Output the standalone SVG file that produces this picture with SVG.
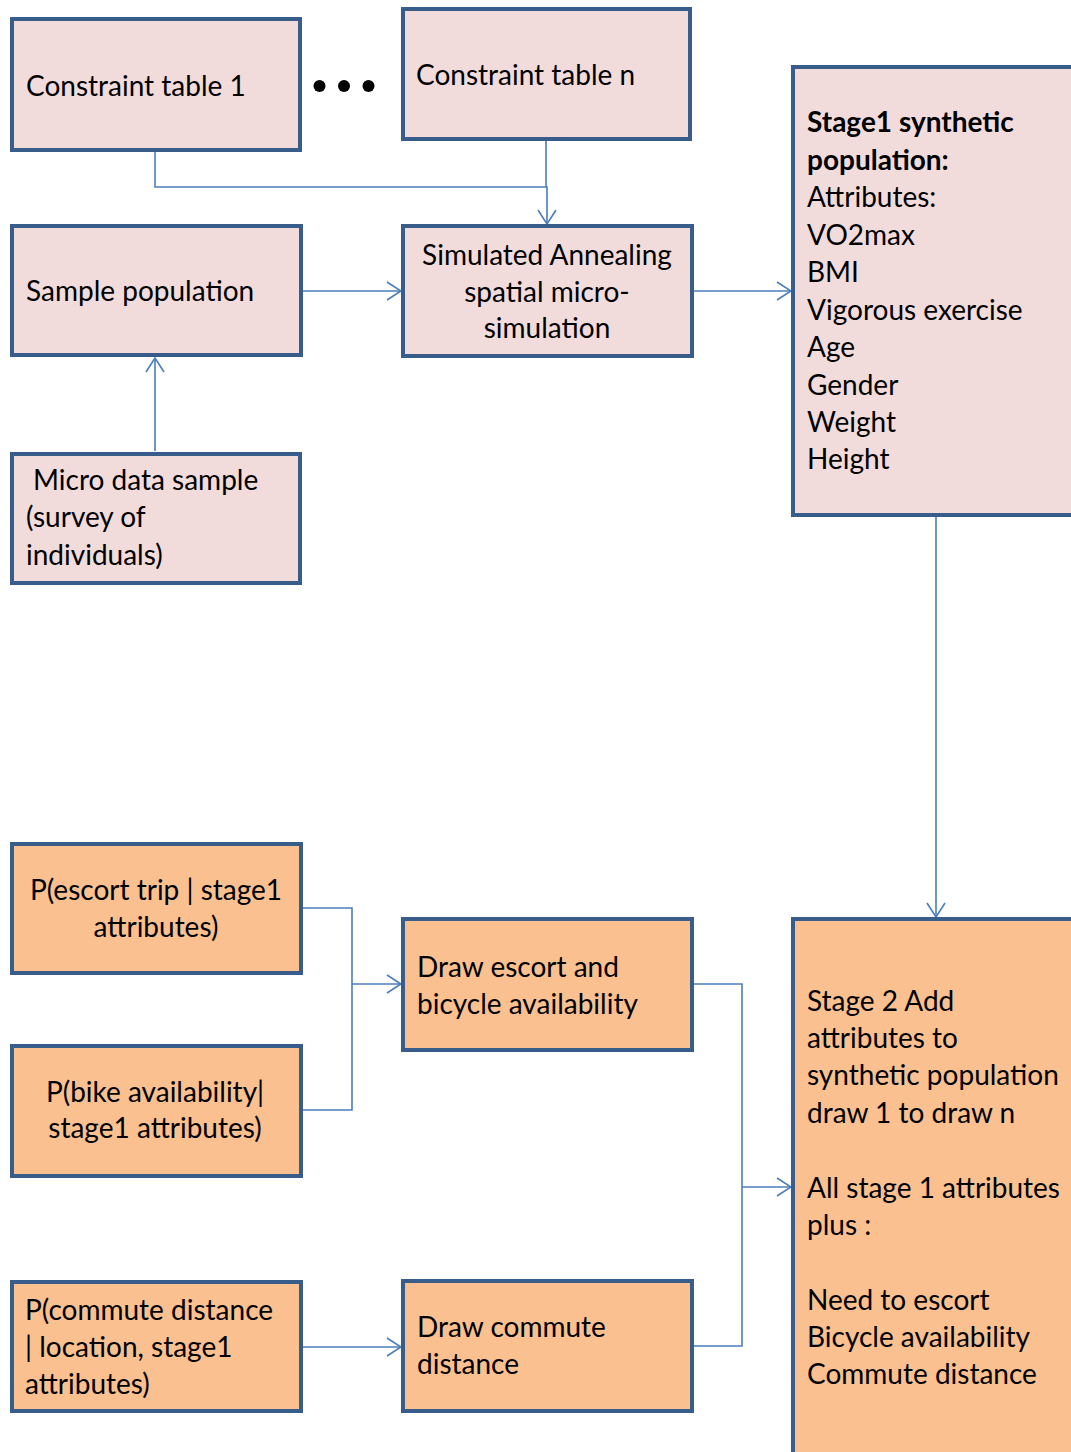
<svg xmlns="http://www.w3.org/2000/svg" width="1071" height="1452" viewBox="0 0 1071 1452">
  <style>
    .box { stroke: #385d8a; stroke-width: 4; }
    .pink { fill: #f2dcdb; }
    .orange { fill: #fac090; }
    .lbl { font-family: Lato, "Liberation Sans", sans-serif; font-size: 28px; fill: #000; }
    .mid { text-anchor: middle; }
    .b { font-weight: bold; }
    .conn { fill: none; stroke: #4a7ebb; stroke-width: 1.6; }
  </style>
  <defs>
    <marker id="arrow" viewBox="0 0 16 20" refX="15" refY="10" markerWidth="16" markerHeight="20" markerUnits="userSpaceOnUse" orient="auto">
      <path d="M1,1 L15,10 L1,19" fill="none" stroke="#4a7ebb" stroke-width="1.6"/>
    </marker>
  </defs>
  <rect width="1071" height="1452" fill="#ffffff"/>

  <!-- connectors -->
  <g id="connectors">
    <path class="conn" d="M155,152 V187 H547 V224" marker-end="url(#arrow)"/>
    <path class="conn" d="M546,141 V187"/>
    <path class="conn" d="M303,291 H401" marker-end="url(#arrow)"/>
    <path class="conn" d="M694,291 H791" marker-end="url(#arrow)"/>
    <path class="conn" d="M155,451 V358" marker-end="url(#arrow)"/>
    <path class="conn" d="M936,517 V917" marker-end="url(#arrow)"/>
    <path class="conn" d="M303,908 H352 V1110 H303"/>
    <path class="conn" d="M352,984 H401" marker-end="url(#arrow)"/>
    <path class="conn" d="M694,984 H742 V1346 H694"/>
    <path class="conn" d="M742,1187 H791" marker-end="url(#arrow)"/>
    <path class="conn" d="M303,1347 H401" marker-end="url(#arrow)"/>
  </g>

  <!-- ellipsis between constraint tables -->
  <g id="ellipsis" fill="#000">
    <circle cx="319.5" cy="86" r="6"/>
    <circle cx="344" cy="86" r="6"/>
    <circle cx="368.5" cy="86" r="6"/>
  </g>

  <g id="constraint-table-1">
    <rect class="box pink" x="12" y="19" width="288" height="131"/>
    <text class="lbl" x="26" y="96">Constraint table 1</text>
  </g>

  <g id="constraint-table-n">
    <rect class="box pink" x="403" y="9" width="287" height="130"/>
    <text class="lbl" x="416" y="85">Constraint table n</text>
  </g>

  <g id="sample-population">
    <rect class="box pink" x="12" y="226" width="289" height="129"/>
    <text class="lbl" x="26" y="301">Sample population</text>
  </g>

  <g id="simulated-annealing">
    <rect class="box pink" x="403" y="226" width="289" height="130"/>
    <text class="lbl mid" x="547" y="265">Simulated Annealing</text>
    <text class="lbl mid" x="547" y="301.5">spatial micro-</text>
    <text class="lbl mid" x="547" y="338">simulation</text>
  </g>

  <g id="micro-data-sample">
    <rect class="box pink" x="12" y="454" width="288" height="129"/>
    <text class="lbl" x="33" y="490">Micro data sample</text>
    <text class="lbl" x="26" y="527">(survey of</text>
    <text class="lbl" x="26" y="565">individuals)</text>
  </g>

  <g id="stage1-population">
    <rect class="box pink" x="793" y="67" width="300" height="448"/>
    <text class="lbl b" x="807" y="132">Stage1 synthetic</text>
    <text class="lbl b" x="807" y="169.5">population:</text>
    <text class="lbl" x="807" y="207">Attributes:</text>
    <text class="lbl" x="807" y="244.5">VO2max</text>
    <text class="lbl" x="807" y="282">BMI</text>
    <text class="lbl" x="807" y="319.5">Vigorous exercise</text>
    <text class="lbl" x="807" y="357">Age</text>
    <text class="lbl" x="807" y="394.5">Gender</text>
    <text class="lbl" x="807" y="432">Weight</text>
    <text class="lbl" x="807" y="469">Height</text>
  </g>

  <g id="p-escort-trip">
    <rect class="box orange" x="12" y="844" width="289" height="129"/>
    <text class="lbl mid" x="156" y="900">P(escort trip | stage1</text>
    <text class="lbl mid" x="156" y="937">attributes)</text>
  </g>

  <g id="p-bike-availability">
    <rect class="box orange" x="12" y="1046" width="289" height="130"/>
    <text class="lbl mid" x="155" y="1101.5">P(bike availability|</text>
    <text class="lbl mid" x="155" y="1138">stage1 attributes)</text>
  </g>

  <g id="p-commute-distance">
    <rect class="box orange" x="12" y="1282" width="289" height="129"/>
    <text class="lbl" x="25" y="1320">P(commute distance</text>
    <text class="lbl" x="25" y="1357">| location, stage1</text>
    <text class="lbl" x="25" y="1394">attributes)</text>
  </g>

  <g id="draw-escort-bicycle">
    <rect class="box orange" x="403" y="919" width="289" height="131"/>
    <text class="lbl" x="417" y="977">Draw escort and</text>
    <text class="lbl" x="417" y="1014">bicycle availability</text>
  </g>

  <g id="draw-commute">
    <rect class="box orange" x="403" y="1281" width="289" height="130"/>
    <text class="lbl" x="417" y="1337">Draw commute</text>
    <text class="lbl" x="417" y="1374">distance</text>
  </g>

  <g id="stage2-population">
    <rect class="box orange" x="793" y="919" width="300" height="560"/>
    <text class="lbl" x="807" y="1010.5">Stage 2 Add</text>
    <text class="lbl" x="807" y="1048">attributes to</text>
    <text class="lbl" x="807" y="1085">synthetic population</text>
    <text class="lbl" x="807" y="1122.5">draw 1 to draw n</text>
    <text class="lbl" x="807" y="1197.5">All stage 1 attributes</text>
    <text class="lbl" x="807" y="1235">plus :</text>
    <text class="lbl" x="807" y="1309.5">Need to escort</text>
    <text class="lbl" x="807" y="1347">Bicycle availability</text>
    <text class="lbl" x="807" y="1384">Commute distance</text>
  </g>
</svg>
